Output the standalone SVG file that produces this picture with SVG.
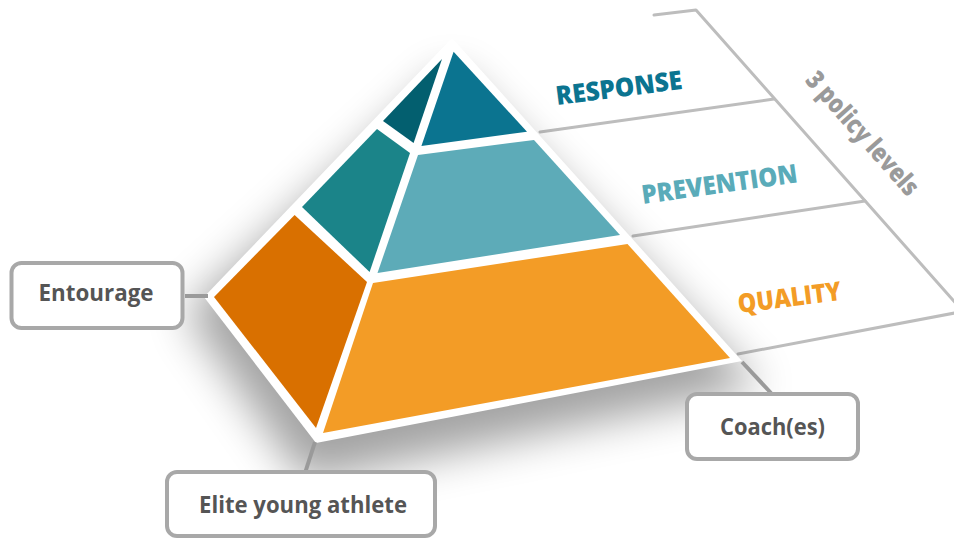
<svg xmlns="http://www.w3.org/2000/svg" width="954" height="538" viewBox="0 0 954 538">
  <style>
    .guide { fill: none; stroke: #bdbdbd; stroke-width: 3; stroke-linecap: round; stroke-linejoin: round; }
    .level { font-family: "Open Sans", "Liberation Sans", sans-serif; font-weight: 800; font-size: 26px; }
    .box { fill: #ffffff; stroke: #a8a8a8; stroke-width: 4; }
    .box-label { font-family: "Open Sans", "Liberation Sans", sans-serif; font-weight: 700; font-size: 23.5px; fill: #555555; text-anchor: middle; }
    .link { stroke: #9a9a9a; stroke-width: 4; fill: none; }
  </style>
  <defs>
    <filter id="soft-shadow" x="-30%" y="-30%" width="160%" height="160%">
      <feGaussianBlur stdDeviation="22"/>
    </filter>
  </defs>

  <rect width="954" height="538" fill="#ffffff"/>

  <!-- three policy bands behind the pyramid -->
  <g id="policy-bands">
    <polyline class="guide" points="654,15 696,10 960,308"/>
    <line class="guide" x1="540" y1="132" x2="774" y2="99"/>
    <line class="guide" x1="633" y1="236" x2="865" y2="201"/>
    <line class="guide" x1="738" y1="354" x2="960" y2="312"/>
  </g>

  <!-- cast shadow of the pyramid -->
  <polygon points="452,70 185,312 305,482 760,388" fill="#000000" opacity="0.36" filter="url(#soft-shadow)"/>

  <g id="pyramid">
    <polygon points="452,38 204,297 316,443 742,361" fill="#ffffff"/>
    <g id="face-left">
      <polygon points="442,59 383,121 413.6,143" fill="#035f6f"/>
      <polygon points="377,129 302,207 369.6,272 410,153" fill="#1b8489"/>
      <polygon points="294.6,215 214,297 316,428 367,282" fill="#d97000"/>
    </g>
    <g id="face-front">
      <polygon points="453.6,51.7 527,131.7 421.4,146" fill="#0b7490"/>
      <polygon points="418,155 534,140 620,235 377.5,273" fill="#5dabb8"/>
      <polygon points="373,283 627.5,244 730,358 323,433" fill="#f39c26"/>
    </g>
  </g>

  <!-- level names -->
  <g id="level-response">
    <text class="level" fill="#0b7490" transform="translate(557,105) rotate(-7.3)" textLength="127" lengthAdjust="spacingAndGlyphs">RESPONSE</text>
  </g>
  <g id="level-prevention">
    <text class="level" fill="#5aabb9" font-size="25" transform="translate(643,204) rotate(-8)" textLength="157" lengthAdjust="spacingAndGlyphs">PREVENTION</text>
  </g>
  <g id="level-quality">
    <text class="level" fill="#f39c26" font-size="25" transform="translate(739,313) rotate(-7.3)" textLength="104" lengthAdjust="spacingAndGlyphs">QUALITY</text>
  </g>
  <g id="policy-caption">
    <text class="level" fill="#9a9a9a" font-size="22" text-anchor="middle" transform="translate(862,134) rotate(48.5)" y="8" textLength="156" lengthAdjust="spacingAndGlyphs">3 policy levels</text>
  </g>

  <!-- connectors from the pyramid corners to the actor boxes -->
  <g id="connectors">
    <line class="link" x1="185" y1="296" x2="208" y2="296"/>
    <line class="link" x1="315" y1="442" x2="305" y2="473"/>
    <line class="link" x1="742" y1="362" x2="771" y2="393"/>
  </g>

  <g id="node-entourage">
    <rect class="box" x="11.5" y="263" width="171" height="65" rx="10"/>
    <text class="box-label" x="96" y="301" textLength="115" lengthAdjust="spacingAndGlyphs">Entourage</text>
  </g>
  <g id="node-athlete">
    <rect class="box" x="167" y="472" width="268" height="64" rx="10"/>
    <text class="box-label" x="303" y="513" textLength="208" lengthAdjust="spacingAndGlyphs">Elite young athlete</text>
  </g>
  <g id="node-coaches">
    <rect class="box" x="687" y="394" width="171" height="65" rx="10"/>
    <text class="box-label" x="772.5" y="435" textLength="105" lengthAdjust="spacingAndGlyphs">Coach(es)</text>
  </g>
</svg>
